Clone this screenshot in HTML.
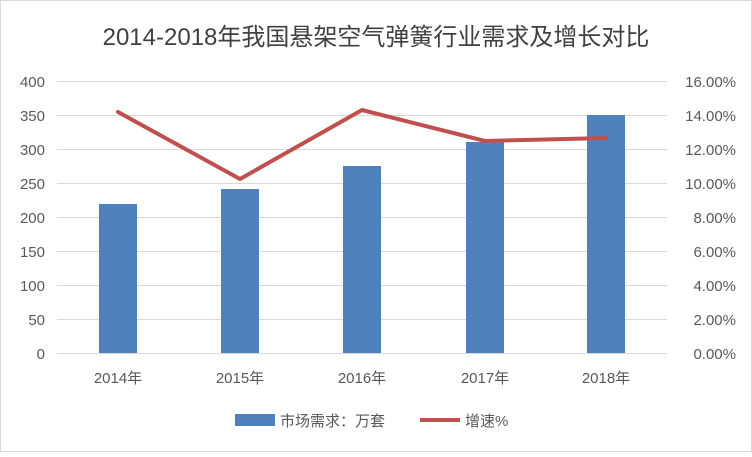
<!DOCTYPE html>
<html><head><meta charset="utf-8"><style>
body{margin:0;background:#fff}
svg text{font-family:"Liberation Sans","Noto Sans CJK SC",sans-serif;fill:#595959}
</style></head><body>
<svg width="752" height="452" viewBox="0 0 752 452" xmlns="http://www.w3.org/2000/svg">
<rect x="0.5" y="0.5" width="751" height="451" fill="#fff" stroke="#d9d9d9"/>
<text x="376" y="45" font-size="24" text-anchor="middle" fill="#404040" style="fill:#404040">2014-2018年我国悬架空气弹簧行业需求及增长对比</text>
<g stroke="#d9d9d9" stroke-width="1">
<line x1="57" y1="81.5" x2="667" y2="81.5"/>
<line x1="57" y1="115.5" x2="667" y2="115.5"/>
<line x1="57" y1="149.5" x2="667" y2="149.5"/>
<line x1="57" y1="183.5" x2="667" y2="183.5"/>
<line x1="57" y1="217.5" x2="667" y2="217.5"/>
<line x1="57" y1="251.5" x2="667" y2="251.5"/>
<line x1="57" y1="285.5" x2="667" y2="285.5"/>
<line x1="57" y1="319.5" x2="667" y2="319.5"/>
<line x1="57" y1="353.5" x2="667" y2="353.5"/>
</g>
<g font-size="15" text-anchor="end">
<text x="45" y="87">400</text><text x="45" y="121">350</text><text x="45" y="155">300</text>
<text x="45" y="189">250</text><text x="45" y="223">200</text><text x="45" y="257">150</text>
<text x="45" y="291">100</text><text x="45" y="325">50</text><text x="45" y="359">0</text>
</g>
<g font-size="15" text-anchor="end">
<text x="736" y="87">16.00%</text><text x="736" y="121">14.00%</text><text x="736" y="155">12.00%</text>
<text x="736" y="189">10.00%</text><text x="736" y="223">8.00%</text><text x="736" y="257">6.00%</text>
<text x="736" y="291">4.00%</text><text x="736" y="325">2.00%</text><text x="736" y="359">0.00%</text>
</g>
<g fill="#4f81bd">
<rect x="99" y="204" width="38" height="149"/>
<rect x="221" y="189" width="38" height="164"/>
<rect x="343" y="166" width="38" height="187"/>
<rect x="466" y="142" width="38" height="211"/>
<rect x="587" y="115" width="38" height="238"/>
</g>
<polyline points="118,112 240,179 362,110 485,141 606,138" fill="none" stroke="#c0504d" stroke-width="4" stroke-linejoin="round" stroke-linecap="round"/>
<g font-size="15" text-anchor="middle">
<text x="118" y="383">2014年</text><text x="240" y="383">2015年</text><text x="362" y="383">2016年</text>
<text x="485" y="383">2017年</text><text x="606" y="383">2018年</text>
</g>
<rect x="235" y="414" width="40" height="12" fill="#4f81bd"/>
<text x="280" y="426" font-size="15">市场需求：万套</text>
<line x1="420" y1="420" x2="460" y2="420" stroke="#c0504d" stroke-width="4"/>
<text x="465" y="426" font-size="15">增速%</text>
</svg>
</body></html>
